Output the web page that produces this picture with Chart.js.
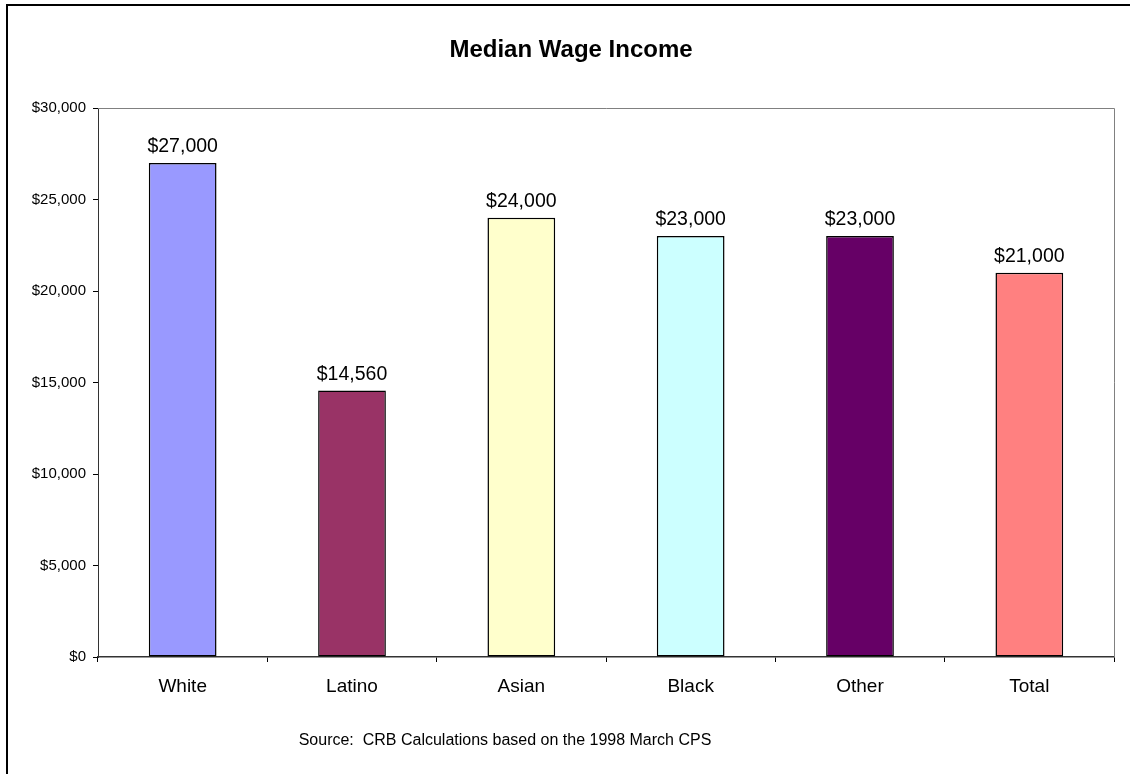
<!DOCTYPE html>
<html>
<head>
<meta charset="utf-8">
<script src="https://cdn.jsdelivr.net/npm/chart.js@4/dist/chart.umd.min.js"></script>
<style>
  html, body { margin: 0; padding: 0; background: #fff; }
  #wrap { width: 1130px; height: 774px; position: relative; }
</style>
</head>
<body>
<div id="wrap"><canvas id="bar-chart" width="1130" height="774"></canvas></div>
<script>
const grupos = ['White', 'Latino', 'Asian', 'Black', 'Other', 'Total']
const salarios = [27000, 14560, 24000, 23000, 23000, 21000]
const cores = ['#9999FF', '#993366', '#FFFFCC', '#CCFFFF', '#660066', '#FF8080']
const titulo = 'Median Wage Income'
const fonte = 'Source:  CRB Calculations based on the 1998 March CPS'

const dinheiro = v => '$' + v.toLocaleString('en-US')
const FAMILIA = '"Liberation Sans", Arial, sans-serif'

// moldura, titulo, fonte e valores sobre as barras
const extras = {
    id: 'extras',
    beforeDraw(chart) {
        const ctx = chart.ctx
        ctx.save()
        ctx.fillStyle = '#fff'
        ctx.fillRect(0, 0, chart.width, chart.height)
        ctx.strokeStyle = '#000'
        ctx.lineWidth = 2
        ctx.beginPath()
        ctx.moveTo(7, chart.height)
        ctx.lineTo(7, 5)
        ctx.lineTo(chart.width, 5)
        ctx.stroke()
        ctx.restore()
    },
    afterDatasetsDraw(chart) {
        const ctx = chart.ctx
        const area = chart.chartArea
        ctx.save()
        // borda superior e direita da area do grafico
        ctx.strokeStyle = '#808080'
        ctx.lineWidth = 1
        ctx.beginPath()
        ctx.moveTo(area.left, area.top + 0.5)
        ctx.lineTo(area.right + 0.5, area.top + 0.5)
        ctx.lineTo(area.right + 0.5, area.bottom)
        ctx.stroke()

        ctx.fillStyle = '#000'
        ctx.textAlign = 'center'
        ctx.textBaseline = 'alphabetic'
        ctx.font = '19.5px ' + FAMILIA
        chart.getDatasetMeta(0).data.forEach((bar, i) => {
            ctx.fillText(dinheiro(salarios[i]), bar.x, bar.y - 11)
        })

        ctx.font = 'bold 24px ' + FAMILIA
        ctx.fillText(titulo, 571, 57)

        ctx.font = '16px ' + FAMILIA
        ctx.fillText(fonte, 505, 745)
        ctx.restore()
    }
}

new Chart(document.getElementById('bar-chart'), {
    type: 'bar',
    data: {
        labels: grupos,
        datasets: [
            {
                data: salarios,
                backgroundColor: cores,
                borderColor: '#000',
                borderWidth: 1.5,
                borderSkipped: false,
                categoryPercentage: 1,
                barPercentage: 0.4
            }
        ]
    },
    options: {
        responsive: false,
        animation: false,
        layout: { padding: { left: 0, top: 108, right: 16, bottom: 77 } },
        plugins: {
            legend: { display: false },
            title: { display: false },
            tooltip: { enabled: false }
        },
        scales: {
            x: {
                afterFit: s => { s.height = 40 },
                grid: { offset: true, drawOnChartArea: false, tickLength: 5, color: '#000' },
                border: { color: '#333', width: 1.5 },
                ticks: { color: '#000', padding: 13, font: { family: FAMILIA, size: 19 } }
            },
            y: {
                min: 0,
                max: 30000,
                afterFit: s => { s.width = 98 },
                grid: { drawOnChartArea: false, tickLength: 5, color: '#000' },
                border: { color: '#333', width: 1 },
                ticks: {
                    stepSize: 5000,
                    color: '#000',
                    padding: 7,
                    font: { family: FAMILIA, size: 15 },
                    callback: v => dinheiro(v)
                }
            }
        }
    },
    plugins: [extras]
})
</script>
</body>
</html>
